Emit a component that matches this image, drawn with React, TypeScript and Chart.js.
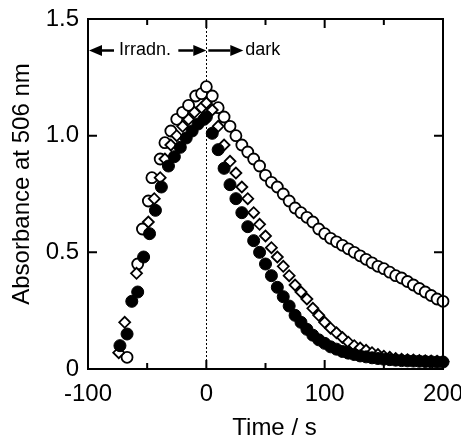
import React, { useEffect, useRef } from "react";
import { Chart, registerables } from "chart.js";

Chart.register(...registerables);

// ---- Data (time in s, absorbance at 506 nm) ----
const openIrrTimes = [-67, -58, -54, -49, -46, -39, -35, -30, -25, -20, -15, -9, -4];
const openIrrValues = [0.05, 0.45, 0.6, 0.72, 0.82, 0.9, 0.97, 1.02, 1.07, 1.1, 1.13, 1.17, 1.18];

const diamondIrrTimes = [-74, -69, -59, -49, -44, -39, -35, -30, -25, -20, -15, -10, -4];
const diamondIrrValues = [0.07, 0.2, 0.41, 0.63, 0.73, 0.82, 0.9, 0.96, 1.0, 1.04, 1.07, 1.1, 1.12];

const filledIrrTimes = [-73, -67, -63, -58, -53, -48, -43, -38, -32, -27, -22, -17, -12, -7, -2];
const filledIrrValues = [0.1, 0.15, 0.29, 0.33, 0.48, 0.58, 0.68, 0.78, 0.87, 0.91, 0.95, 0.99, 1.02, 1.05, 1.07];

const decayTimes = [
  0, 5, 10, 15, 20, 25, 30, 35, 40, 45, 50, 55, 60, 65, 70, 75, 80, 85, 90, 95, 100,
  105, 110, 115, 120, 125, 130, 135, 140, 145, 150, 155, 160, 165, 170, 175, 180, 185, 190, 195, 200,
];
const openDecayValues = [
  1.21, 1.17, 1.12, 1.08, 1.04, 1.0, 0.96, 0.93, 0.9, 0.87, 0.83, 0.8, 0.78, 0.75, 0.72, 0.69, 0.67, 0.65, 0.63, 0.6, 0.58,
  0.56, 0.545, 0.53, 0.515, 0.5, 0.485, 0.47, 0.455, 0.44, 0.43, 0.415, 0.4, 0.39, 0.375, 0.36, 0.345, 0.33, 0.315, 0.3, 0.29,
];
const diamondDecayValues = [
  1.14, 1.11, 1.04, 0.96, 0.89, 0.84, 0.78, 0.73, 0.67, 0.62, 0.57, 0.52, 0.48, 0.44, 0.4, 0.36, 0.33, 0.3, 0.26, 0.23, 0.2,
  0.175, 0.155, 0.135, 0.115, 0.1, 0.09, 0.08, 0.07, 0.062, 0.055, 0.05, 0.045, 0.042, 0.04, 0.038, 0.036, 0.035, 0.034, 0.033, 0.032,
];
const filledDecayValues = [
  1.08, 1.01, 0.94, 0.86, 0.79, 0.73, 0.67, 0.61, 0.55, 0.5, 0.45, 0.4, 0.35, 0.31, 0.27, 0.23, 0.2, 0.17, 0.145, 0.125, 0.11,
  0.095, 0.085, 0.075, 0.068, 0.062, 0.056, 0.052, 0.048, 0.045, 0.042, 0.04, 0.038, 0.036, 0.035, 0.034, 0.033, 0.032, 0.031, 0.03, 0.03,
];

const xTickValues = [-100, 0, 100, 200];
const xMinorTicks = [-50, 50, 150];
const yTickValues = [0, 0.5, 1.0, 1.5];

const xTitle = "Time / s";
const yTitle = "Absorbance at 506 nm";
const irrLabel = "Irradn.";
const darkLabel = "dark";

const FONT = "'Liberation Sans', Arial, Helvetica, sans-serif";

function toPoints(times: number[], values: number[]) {
  return times.map((t, i) => ({ x: t, y: values[i] }));
}

function arrow(ctx: CanvasRenderingContext2D, x0: number, x1: number, y: number) {
  const dir = x1 > x0 ? 1 : -1;
  const headLen = 13;
  const headHalf = 5.5;
  ctx.beginPath();
  ctx.moveTo(x0, y);
  ctx.lineTo(x1 - dir * headLen, y);
  ctx.stroke();
  ctx.beginPath();
  ctx.moveTo(x1, y);
  ctx.lineTo(x1 - dir * headLen, y - headHalf);
  ctx.lineTo(x1 - dir * headLen, y + headHalf);
  ctx.closePath();
  ctx.fill();
}

const decorPlugin = {
  id: "decor",
  beforeDatasetsDraw(chart: any) {
    const { ctx, chartArea } = chart;
    const xs = chart.scales.x;
    const x0 = Math.round(xs.getPixelForValue(0)) + 0.5;
    ctx.save();
    ctx.strokeStyle = "#000";
    ctx.lineWidth = 1;
    ctx.setLineDash([2, 2]);
    ctx.beginPath();
    ctx.moveTo(x0, chartArea.top);
    ctx.lineTo(x0, chartArea.bottom);
    ctx.stroke();
    ctx.restore();
  },
  afterDraw(chart: any) {
    const { ctx, chartArea } = chart;
    const xs = chart.scales.x;
    const ys = chart.scales.y;
    const { left, right, top, bottom } = chartArea;
    ctx.save();
    ctx.strokeStyle = "#000";
    ctx.fillStyle = "#000";
    ctx.lineWidth = 2;
    ctx.setLineDash([]);
    ctx.strokeRect(left, top, right - left, bottom - top);

    // ticks (inward)
    ctx.beginPath();
    xTickValues.forEach((v) => {
      const px = xs.getPixelForValue(v);
      ctx.moveTo(px, bottom);
      ctx.lineTo(px, bottom - 9);
      ctx.moveTo(px, top);
      ctx.lineTo(px, top + 9);
    });
    xMinorTicks.forEach((v) => {
      const px = xs.getPixelForValue(v);
      ctx.moveTo(px, bottom);
      ctx.lineTo(px, bottom - 6);
      ctx.moveTo(px, top);
      ctx.lineTo(px, top + 6);
    });
    yTickValues.forEach((v) => {
      const py = ys.getPixelForValue(v);
      ctx.moveTo(left, py);
      ctx.lineTo(left + 9, py);
      ctx.moveTo(right, py);
      ctx.lineTo(right - 9, py);
    });
    ctx.stroke();

    // annotation arrows
    const zx = xs.getPixelForValue(0);
    const ay = ys.getPixelForValue(1.365);
    ctx.lineWidth = 2.5;
    arrow(ctx, left + 26, left + 1, ay);
    arrow(ctx, zx - 28, zx, ay);
    arrow(ctx, zx + 2, zx + 37, ay);
    ctx.font = `18px ${FONT}`;
    ctx.textBaseline = "middle";
    ctx.textAlign = "left";
    ctx.fillText(irrLabel, left + 31, ay);
    ctx.fillText(darkLabel, zx + 39, ay);

    // axis titles
    ctx.font = `24px ${FONT}`;
    ctx.textAlign = "center";
    ctx.textBaseline = "middle";
    ctx.fillText(xTitle, (left + right) / 2 + 9, 428);
    ctx.translate(22, (top + bottom) / 2 - 10);
    ctx.rotate(-Math.PI / 2);
    ctx.fillText(yTitle, 0, 0);
    ctx.restore();
  },
};

export default function App() {
  const canvasRef = useRef<HTMLCanvasElement | null>(null);

  useEffect(() => {
    const canvas = canvasRef.current;
    if (!canvas) return;
    const common = { showLine: false, clip: false as any };
    const chart = new Chart(canvas, {
      type: "scatter",
      data: {
        datasets: [
          {
            ...common,
            label: "filled",
            data: [...toPoints(filledIrrTimes, filledIrrValues), ...toPoints(decayTimes, filledDecayValues)],
            pointStyle: "circle",
            pointRadius: 6,
            backgroundColor: "#000",
            borderColor: "#000",
            borderWidth: 1,
          },
          {
            ...common,
            label: "diamond",
            data: [...toPoints(diamondIrrTimes, diamondIrrValues), ...toPoints(decayTimes, diamondDecayValues)],
            pointStyle: "rectRot",
            pointRadius: 5.5,
            backgroundColor: "#fff",
            borderColor: "#000",
            borderWidth: 1.8,
          },
          {
            ...common,
            label: "open",
            data: [...toPoints(openIrrTimes, openIrrValues), ...toPoints(decayTimes, openDecayValues)],
            pointStyle: "circle",
            pointRadius: 5.5,
            backgroundColor: "#fff",
            borderColor: "#000",
            borderWidth: 1.8,
          },
        ],
      },
      options: {
        animation: false,
        responsive: false,
        events: [],
        layout: { padding: { top: 19, right: 18, left: 0, bottom: 0 } },
        plugins: { legend: { display: false }, tooltip: { enabled: false } },
        scales: {
          x: {
            type: "linear",
            min: -100,
            max: 200,
            grid: { display: false, drawTicks: false },
            border: { display: false },
            ticks: {
              stepSize: 100,
              padding: 11,
              color: "#000",
              font: { size: 24, family: FONT },
              maxRotation: 0,
            },
            afterFit: (scale: any) => {
              scale.height = 72;
              scale.paddingLeft = 0;
              scale.paddingRight = 0;
            },
          },
          y: {
            type: "linear",
            min: 0,
            max: 1.5,
            grid: { display: false, drawTicks: false },
            border: { display: false },
            ticks: {
              stepSize: 0.5,
              padding: 9,
              color: "#000",
              font: { size: 24, family: FONT },
              callback: (v: any) => (Number(v) === 0 ? "0" : Number(v).toFixed(1)),
            },
            afterFit: (scale: any) => {
              scale.width = 88;
              scale.paddingTop = 0;
              scale.paddingBottom = 0;
            },
          },
        },
      },
      plugins: [decorPlugin],
    });
    return () => chart.destroy();
  }, []);

  return (
    <div style={{ position: "absolute", left: 0, top: 0, width: 461, height: 441, background: "#fff" }}>
      <canvas ref={canvasRef} width={461} height={441} style={{ display: "block" }} />
    </div>
  );
}
